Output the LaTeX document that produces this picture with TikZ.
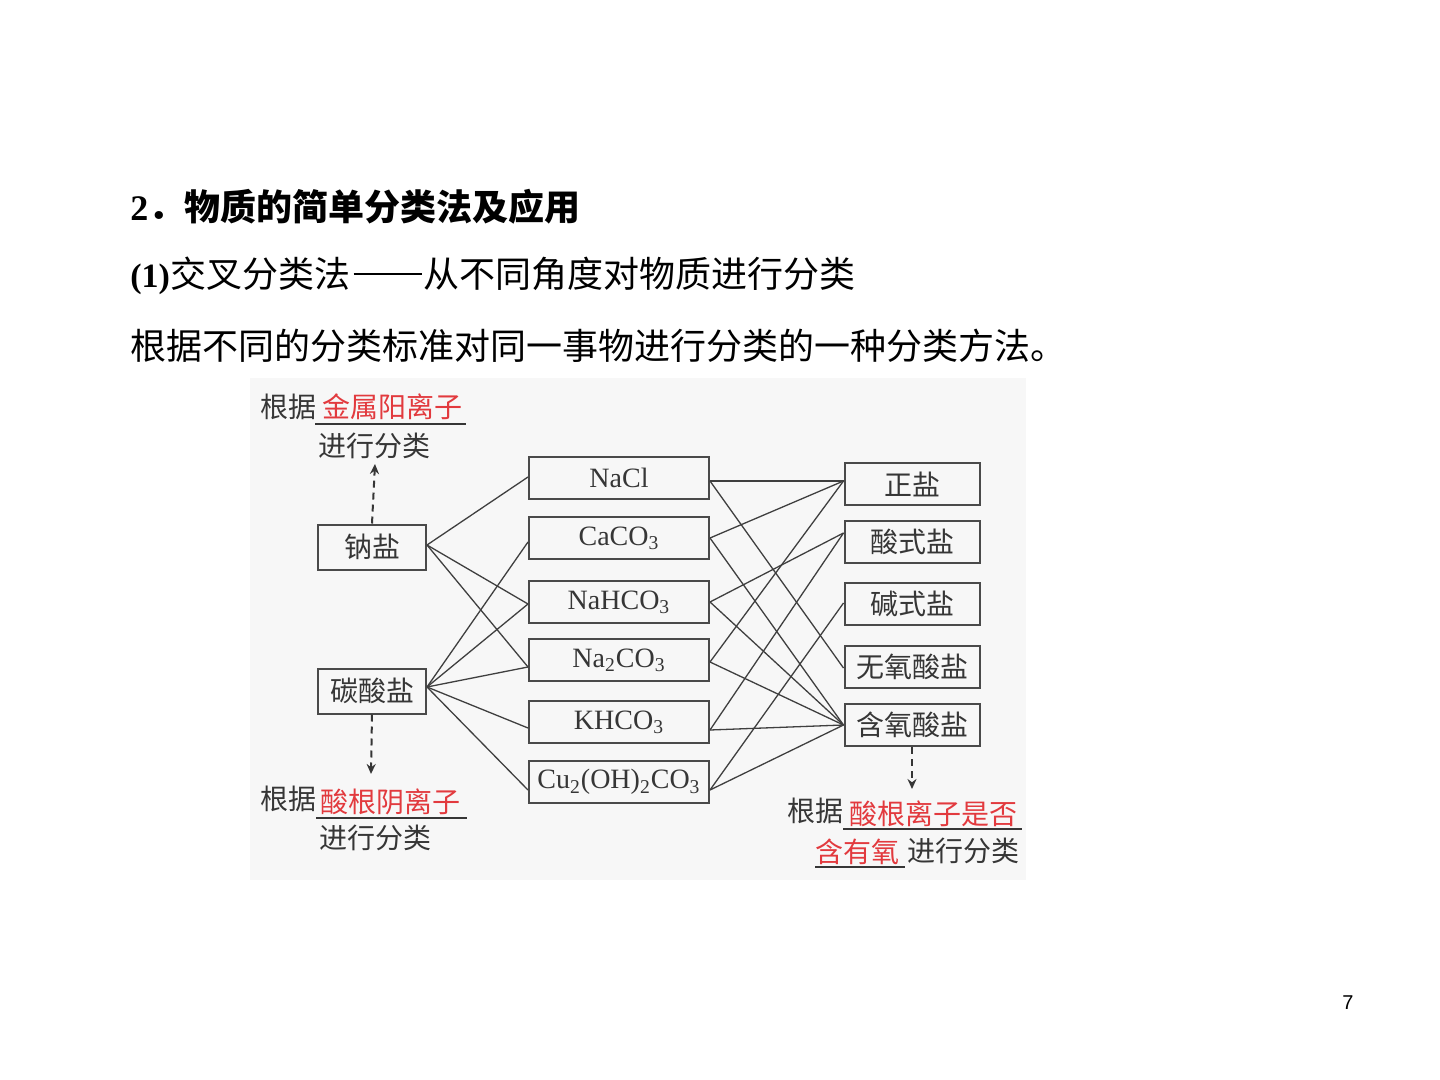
\documentclass[tikz,border=0pt]{standalone}
\usepackage{fontspec}
\setmainfont{Liberation Serif}
\setsansfont{Liberation Sans}
\newfontfamily\cjk{Noto Sans CJK SC}
\usetikzlibrary{arrows.meta,calc}
\definecolor{tgray}{HTML}{363636}
\definecolor{bgray}{HTML}{4A4A4A}
\definecolor{lgray}{HTML}{3F3F3F}
\definecolor{tred}{HTML}{E23A3E}
\definecolor{bgc}{HTML}{F7F7F7}
\begin{document}
\begin{tikzpicture}[x=0.5pt,y=-0.5pt,
  box/.style={draw=bgray, line width=1pt, inner sep=0pt, text=tgray},
  lbox/.style={box, minimum width=54pt, minimum height=22.5pt, font=\cjk\fontsize{14pt}{16pt}\selectfont},
  mbox/.style={box, minimum width=90pt, minimum height=21pt, font=\fontsize{14pt}{16pt}\selectfont},
  rbox/.style={box, minimum width=67.5pt, minimum height=21pt, font=\cjk\fontsize{14pt}{16pt}\selectfont},
  lab/.style={inner sep=0pt, text=tgray, font=\cjk\fontsize{14pt}{16pt}\selectfont},
  redlab/.style={lab, text=tred},
  uline/.style={draw=tgray, line width=0.8pt},
  link/.style={draw=lgray, line width=0.65pt},
  dasharrow/.style={draw=tgray, line width=1pt, dash pattern=on 3.5pt off 2.5pt, -{Stealth[length=5pt,width=4.5pt]}},
  head/.style={anchor=west, inner sep=0pt, text=black}
]
\path[use as bounding box, fill=white] (0,0) rectangle (1440,1080);

% headings
\node[head, font=\cjk\bfseries\fontsize{18pt}{20pt}\selectfont] (h1) at (130,207)
  {{\rmfamily 2}．物质的简单分类法及应用};
\node[head, font=\cjk\fontsize{18pt}{20pt}\selectfont] (h2) at (130,276)
  {{\rmfamily\bfseries\fontsize{17pt}{19pt}\selectfont (1)}交叉分类法\kern0.1em\rule[0.36em]{1.9em}{0.06em}\kern0.05em 从不同角度对物质进行分类};
\node[head, font=\cjk\fontsize{18pt}{20pt}\selectfont] (h3) at (130,346)
  {根据不同的分类标准对同一事物进行分类的一种分类方法。};

% diagram background
\fill[bgc] (250,378) rectangle (1026,880);

% left boxes
\node[lbox] (na)  at (372,547) {钠盐};
\node[lbox] (tan) at (372,691) {碳酸盐};

% middle boxes
\node[mbox] (nacl)   at (619,478) {NaCl};
\node[mbox] (caco3)  at (619,538) {CaCO\textsubscript{3}};
\node[mbox] (nahco3) at (619,602) {NaHCO\textsubscript{3}};
\node[mbox] (na2co3) at (619,660) {Na\textsubscript{2}CO\textsubscript{3}};
\node[mbox] (khco3)  at (619,722) {KHCO\textsubscript{3}};
\node[mbox] (cu)     at (619,782) {Cu\textsubscript{2}(OH)\textsubscript{2}CO\textsubscript{3}};

% right boxes
\node[rbox] (zs) at (912,484) {正盐};
\node[rbox] (ss) at (912,542) {酸式盐};
\node[rbox] (js) at (912,604) {碱式盐};
\node[rbox] (wy) at (912,667) {无氧酸盐};
\node[rbox] (hy) at (912,725) {含氧酸盐};

% left connectors
\draw[link] ($(na.east)+(0,-2)$) -- ($(nacl.west)+(0,-1)$);
\draw[link] ($(na.east)+(0,-2)$) -- ($(nahco3.west)+(0,2)$);
\draw[link] ($(na.east)+(0,-2)$) -- ($(na2co3.west)+(0,7)$);
\draw[link] ($(tan.east)+(0,-4)$) -- ($(caco3.west)+(0,4)$);
\draw[link] ($(tan.east)+(0,-4)$) -- ($(nahco3.west)+(0,2)$);
\draw[link] ($(tan.east)+(0,-4)$) -- ($(na2co3.west)+(0,7)$);
\draw[link] ($(tan.east)+(0,-4)$) -- ($(khco3.west)+(0,6)$);
\draw[link] ($(tan.east)+(0,-4)$) -- ($(cu.west)+(0,8)$);

% right connectors
\draw[link] ($(nacl.east)+(0,3)$) -- ($(zs.west)+(0,-3)$);
\draw[link] ($(nacl.east)+(0,3)$) -- ($(wy.west)+(0,1)$);
\draw[link] (caco3.east) -- ($(zs.west)+(0,-3)$);
\draw[link] (caco3.east) -- (hy.west);
\draw[link] (nahco3.east) -- ($(ss.west)+(0,-9)$);
\draw[link] (nahco3.east) -- (hy.west);
\draw[link] ($(na2co3.east)+(0,2)$) -- ($(zs.west)+(0,-3)$);
\draw[link] ($(na2co3.east)+(0,2)$) -- (hy.west);
\draw[link] ($(khco3.east)+(0,8)$) -- ($(ss.west)+(0,-9)$);
\draw[link] ($(khco3.east)+(0,8)$) -- (hy.west);
\draw[link] ($(cu.east)+(0,8)$) -- ($(js.west)+(0,-1)$);
\draw[link] ($(cu.east)+(0,8)$) -- (hy.west);

% top-left label
\node[lab]    (l1a) at (288,407) {根据};
\node[redlab] (l1b) at (392,407) {金属阳离子};
\draw[uline] (315,424) -- (466,424);
\node[lab]    (l1c) at (374,446) {进行分类};
\coordinate (t1) at (375,464);
\draw[dasharrow] (na.north) -- (t1);

% bottom-left label
\coordinate (t2) at (371,774);
\draw[dasharrow] (tan.south) -- (t2);
\node[lab]    (l2a) at (288,799) {根据};
\node[redlab] (l2b) at (390,802) {酸根阴离子};
\draw[uline] (316,818) -- (467,818);
\node[lab]    (l2c) at (375,838) {进行分类};

% bottom-right label
\coordinate (t3) at (912,789);
\draw[dasharrow] (hy.south) -- (t3);
\node[lab]    (l3a) at (815,811) {根据};
\node[redlab] (l3b) at (933,814) {酸根离子是否};
\draw[uline] (843,829) -- (1022,829);
\node[redlab] (l3c) at (857,852) {含有氧};
\draw[uline] (815,867) -- (905,867);
\node[lab]    (l3d) at (963,851) {进行分类};

% page number
\node[inner sep=0pt, font=\sffamily\fontsize{10pt}{12pt}\selectfont] (pg) at (1348,1003) {7};
\end{tikzpicture}
\end{document}
